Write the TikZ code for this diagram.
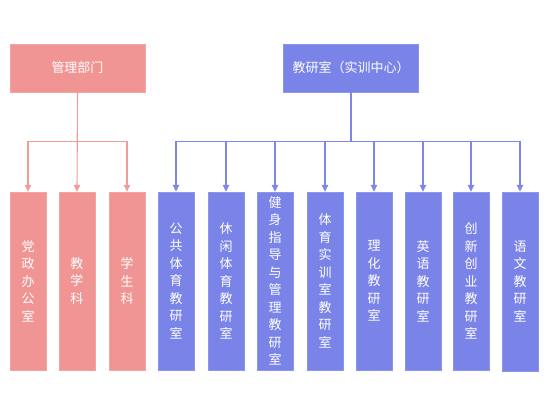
\documentclass[tikz,border=0pt]{standalone}
\usepackage{fontspec}
\setmainfont{Noto Sans CJK SC}
\usepackage{xcolor}
\usetikzlibrary{arrows.meta,positioning}
\definecolor{hong}{HTML}{F09593}
\definecolor{hongxian}{HTML}{F29C9A}
\definecolor{lan}{HTML}{7A84E8}
\definecolor{lanxian}{HTML}{7D87E9}

\begin{document}
\begin{tikzpicture}[x=1pt,y=-1pt,
  font=\fontsize{13}{17.5}\selectfont,
  dingbu/.style={draw=#1!85!white,fill=#1,text=white,minimum width=135pt,minimum height=48pt,inner sep=0pt},
  ke/.style={draw=hong!85!white,fill=hong,text=white,minimum width=36pt,minimum height=178pt,text width=14pt,align=center,inner sep=0pt},
  shi/.style={draw=lan!85!white,fill=lan,text=white,minimum width=36pt,minimum height=178pt,text width=14pt,align=center,inner sep=0pt},
  xianh/.style={-{Triangle[length=7pt,width=6.5pt]},hongxian,line width=1.1pt},
  xianl/.style={-{Triangle[length=7pt,width=6.5pt]},lanxian,line width=1.1pt}]
\useasboundingbox (0,0) rectangle (555,395);
\node[dingbu=hong] (guanli) at (77.5,68) {管理部门};
\node[dingbu=lan] (jiaoyan) at (351,68) {教研室（实训中心）};
\node[ke] (dangzheng) at (28,281) {党\\政\\办\\公\\室};
\node[ke] (jiaoxue) at (77,281) {教\\学\\科};
\node[ke] (xuesheng) at (127,281) {学\\生\\科};
\node[shi] (gonggong) at (176,281) {公\\共\\体\\育\\教\\研\\室};
\node[shi] (xiuxian) at (226,281) {休\\闲\\体\\育\\教\\研\\室};
\node[shi] (jianshen) at (275,281) {健\\身\\指\\导\\与\\管\\理\\教\\研\\室};
\node[shi] (shixun) at (325,281) {体\\育\\实\\训\\室\\教\\研\\室};
\node[shi] (lihua) at (374,281) {理\\化\\教\\研\\室};
\node[shi] (yingyu) at (423,281) {英\\语\\教\\研\\室};
\node[shi] (chuangxin) at (471,281) {创\\新\\创\\业\\教\\研\\室};
\node[shi,minimum height=179pt] (yuwen) at (520,281.5) {语\\文\\教\\研\\室};
\draw[xianh] (guanli.south) -- ++(0,49) -| (dangzheng.north);
\draw[xianh] (guanli.south) -- (jiaoxue.north);
\draw[xianh] (guanli.south) -- ++(0,49) -| (xuesheng.north);
\draw[xianl] (jiaoyan.south) -- ++(0,49) -| (gonggong.north);
\draw[xianl] (jiaoyan.south) -- ++(0,49) -| (xiuxian.north);
\draw[xianl] (jiaoyan.south) -- ++(0,49) -| (jianshen.north);
\draw[xianl] (jiaoyan.south) -- ++(0,49) -| (shixun.north);
\draw[xianl] (jiaoyan.south) -- ++(0,49) -| (lihua.north);
\draw[xianl] (jiaoyan.south) -- ++(0,49) -| (yingyu.north);
\draw[xianl] (jiaoyan.south) -- ++(0,49) -| (chuangxin.north);
\draw[xianl] (jiaoyan.south) -- ++(0,49) -| (yuwen.north);
\end{tikzpicture}
\end{document}
